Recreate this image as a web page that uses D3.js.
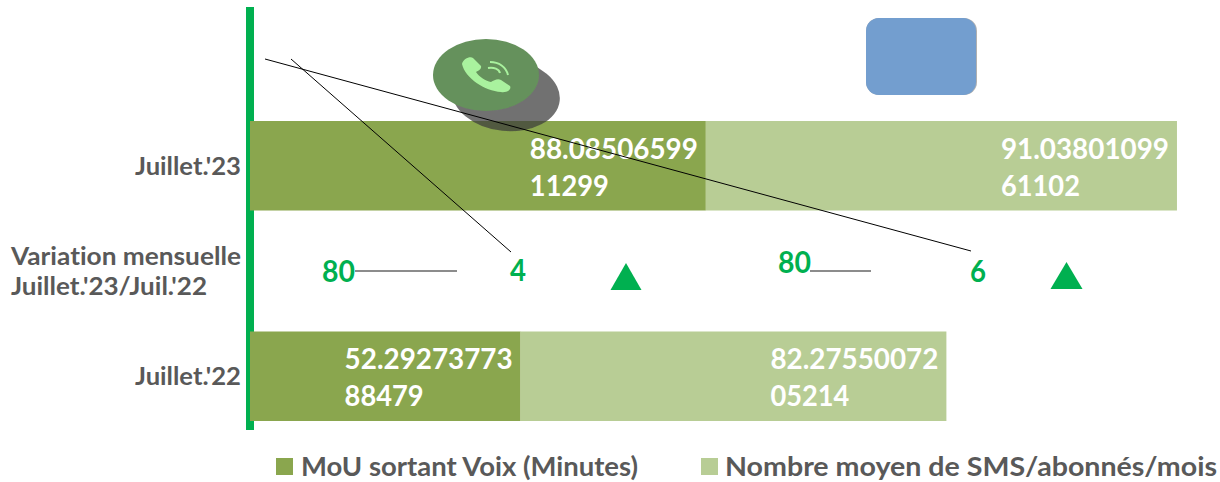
<!DOCTYPE html>
<html><head><meta charset="utf-8">
<script src="https://cdnjs.cloudflare.com/ajax/libs/d3/7.8.5/d3.min.js"></script>
<style>html,body{margin:0;padding:0;background:#fff}svg{display:block}text{font-family:Lato,sans-serif;font-weight:700;font-variant-ligatures:none}</style>
</head><body><svg id="c" width="1220" height="482"></svg>
<script>
const categories = ["Juillet.'23", "Variation", "Juillet.'22"];
const seriesNames = ["MoU sortant Voix (Minutes)", "Nombre moyen de SMS/abonnés/mois"];
const mouValues = [88.0850659911299, null, 52.2927377388479];
const smsValues = [91.0380109961102, null, 82.2755007205214];
const mouLabels = [["88.08506599", "11299"], null, ["52.29273773", "88479"]];
const smsLabels = [["91.03801099", "61102"], null, ["82.27550072", "05214"]];
const variationLabel = ["Variation mensuelle", "Juillet.'23/Juil.'22"];
const variationValues = [{head: "80", tail: "4"}, {head: "80", tail: "6"}];
const colors = ["#8aa64e", "#b8cd95"];
const green = "#00b050", grey = "#595959";

const svg = d3.select("#c");
const defs = svg.append("defs");
defs.append("filter").attr("id", "soft").append("feGaussianBlur").attr("stdDeviation", 0.6);

const x = d3.scaleLinear().domain([0, 100]).range([250, 767.5]);
const y = d3.scaleBand().domain(categories).range([113, 429]).paddingInner(0.1496).paddingOuter(0.076);
const bh = y.bandwidth();

// text helper: squeezes or stretches a label to the measured width of the reference
function label(tx, ty, size, fill, s, width) {
  const t = svg.append("text").attr("x", tx).attr("y", ty).attr("font-size", size).attr("fill", fill).text(s);
  if (width) t.attr("textLength", width).attr("lengthAdjust", "spacingAndGlyphs");
  return t;
}

// green axis
svg.append("rect").attr("x", 246).attr("y", 7).attr("width", 8).attr("height", 423).attr("fill", green);

// bars
categories.forEach((c, i) => {
  if (mouValues[i] == null) return;
  const a = mouValues[i], b = smsValues[i];
  svg.append("rect").attr("x", x(0)).attr("y", y(c)).attr("width", x(a) - x(0)).attr("height", bh).attr("fill", colors[0]);
  svg.append("rect").attr("x", x(a)).attr("y", y(c)).attr("width", x(a + b) - x(a)).attr("height", bh).attr("fill", colors[1]);
  [[mouLabels[i], x(a)], [smsLabels[i], x(a + b)]].forEach(([lab, right]) => {
    const left = right - 176;
    lab.forEach((t, k) => label(left, y(c) + 38 + k * 37, 29, "#fff", t, k ? 79 : 168));
  });
});

// category labels
const labelX = 241;
label(labelX - 106, y(categories[0]) + bh / 2 + 9, 25, grey, categories[0], 106);
label(labelX - 106, y(categories[2]) + bh / 2 + 9, 25, grey, categories[2], 106);
label(11, 265, 25, grey, variationLabel[0], 230);
label(11, 295, 25, grey, variationLabel[1], 196);

// variation row
const rows = [{hx: 322, hy: 282, lx1: 355, lx2: 457, ly: 271, tx: 510, ty: 281, tri: 626, triTop: 263, triBot: 290, triW: 31},
              {hx: 778, hy: 273, lx1: 810, lx2: 871, ly: 271, tx: 970, ty: 282, tri: 1066.5, triTop: 262, triBot: 289, triW: 32}];
rows.forEach((r, i) => {
  label(r.hx, r.hy, 31, green, variationValues[i].head, 33);
  svg.append("line").attr("x1", r.lx1).attr("x2", r.lx2).attr("y1", r.ly).attr("y2", r.ly).attr("stroke", "#666666").attr("stroke-width", 1.5);
  label(r.tx, r.ty, 31, green, variationValues[i].tail, 16);
  svg.append("path").attr("d", d3.line()([[r.tri - r.triW / 2, r.triBot], [r.tri, r.triTop], [r.tri + r.triW / 2, r.triBot]]) + "Z").attr("fill", green);
});

// legend
[[276, 301, 337], [701, 725, 492]].forEach(([sx, tx, w], i) => {
  svg.append("rect").attr("x", sx).attr("y", 458).attr("width", 17).attr("height", 17).attr("fill", colors[i]);
  label(tx, 476, 27, grey, seriesNames[i], w);
});

// blue rounded box
svg.append("rect").attr("x", 866).attr("y", 18).attr("width", 111).attr("height", 77).attr("rx", 13).attr("fill", "#b0b0b0");
svg.append("rect").attr("x", 866).attr("y", 18).attr("width", 110).attr("height", 77).attr("rx", 13).attr("fill", "#739ecf");

// phone badge
const badge = svg.append("g").attr("filter", "url(#soft)");
badge.append("ellipse").attr("cx", 506).attr("cy", 95).attr("rx", 54).attr("ry", 36).attr("transform", "rotate(6 506 95)").attr("fill", "#3c3c3c").attr("fill-opacity", 0.72);
badge.append("ellipse").attr("cx", 486).attr("cy", 75).attr("rx", 53).attr("ry", 36).attr("fill", "#65915b");
badge.append("path").attr("fill", "#a9f29e").attr("d", "M462 64 C463 59 470 56 473 58 L481 66 C482 69 478 71 476 72 C479 77 486 81 491 82 C494 80 498 78 501 80 L510 86 C512 90 506 93 501 92 C485 91 465 78 462 64 Z");
badge.append("path").attr("fill", "none").attr("stroke", "#a9f29e").attr("stroke-width", 2).attr("d", "M490 62 C499 62 506 67 508 75 M488 68 C494 67 499 69 500 73");

// leader lines
[[265, 59, 971, 251], [291, 59, 511, 252]].forEach(d => {
  svg.append("line").attr("x1", d[0]).attr("y1", d[1]).attr("x2", d[2]).attr("y2", d[3]).attr("stroke", "#000").attr("stroke-width", 1);
});
</script></body></html>
